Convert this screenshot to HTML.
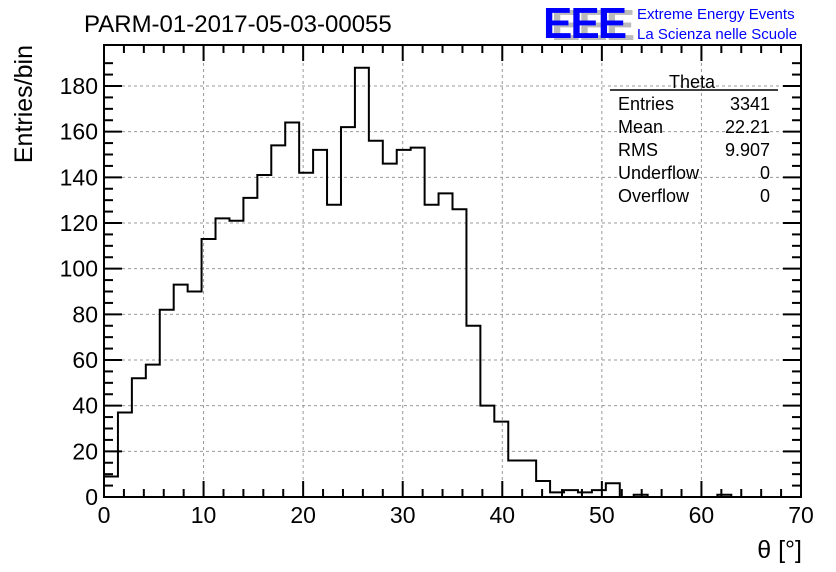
<!DOCTYPE html>
<html><head><meta charset="utf-8"><style>
body{margin:0;background:#fff;}
svg{display:block;font-family:"Liberation Sans",sans-serif;}
</style></head><body>
<svg id="chart" width="836" height="572" viewBox="0 0 836 572">
<rect width="836" height="572" fill="#fff"/>
<text x="84" y="32" font-size="24">PARM-01-2017-05-03-00055</text>
<g>
<text x="551" y="40" font-size="44" fill="#bbb" font-weight="bold" letter-spacing="-2">EEE</text>
<text x="543" y="38" font-size="44" fill="#0000ff" font-weight="bold" letter-spacing="-2">EEE</text>
<text x="637" y="19" font-size="15" fill="#0000ff">Extreme Energy Events</text>
<text x="637" y="39" font-size="15" fill="#0000ff">La Scienza nelle Scuole</text>
</g>
<g id="grid"></g>
<g id="axes"></g>
<path id="hist" fill="none" stroke="#000" stroke-width="2"/>
<g font-size="18">
<text x="692" y="88" text-anchor="middle">Theta</text>
<line x1="610" y1="90" x2="778" y2="90" stroke="#000" stroke-width="1.5"/>
<text x="618" y="110">Entries</text><text x="770" y="110" text-anchor="end">3341</text>
<text x="618" y="133">Mean</text><text x="770" y="133" text-anchor="end">22.21</text>
<text x="618" y="156">RMS</text><text x="770" y="156" text-anchor="end">9.907</text>
<text x="618" y="179">Underflow</text><text x="770" y="179" text-anchor="end">0</text>
<text x="618" y="202">Overflow</text><text x="770" y="202" text-anchor="end">0</text>
</g>
<text x="802" y="558" font-size="25" text-anchor="end">θ [°]</text>
<text transform="translate(32,45) rotate(-90)" font-size="25" text-anchor="end">Entries/bin</text>
</svg>
<script>
const binWidth = 1.4;
const counts = [9,37,52,58,82,93,90,113,122,121,131,141,154,164,142,152,128,162,188,156,146,152,153,128,133,126,75,40,33,16,16,7,2,3,2,3,6,0,1,0,0,0,0,0,1,0,0,0,0,0];
const xTicks = [0,10,20,30,40,50,60,70];
const yTicks = [0,20,40,60,80,100,120,140,160,180];
const L=104,R=801,T=45,B=497;
const sx=v=>L+(v/70)*(R-L);
const sy=v=>B-(v/180)*(B-86);
const NS="http://www.w3.org/2000/svg";
function mk(t,a,p){const e=document.createElementNS(NS,t);for(const k in a)e.setAttribute(k,a[k]);p.appendChild(e);return e;}
const grid=document.getElementById('grid'),axes=document.getElementById('axes');
xTicks.forEach(v=>{if(v>0&&v<70){const g=mk('line',{x1:sx(v),x2:sx(v),y1:T,y2:B,stroke:'#999','stroke-dasharray':'3,3','stroke-width':1},grid);

}});
yTicks.forEach(v=>{if(v>0){const g=mk('line',{x1:L,x2:R,y1:sy(v),y2:sy(v),stroke:'#999','stroke-dasharray':'3,3','stroke-width':1},grid);

}});
const fr=mk('rect',{x:L,y:T,width:R-L,height:B-T,fill:'none',stroke:'#000','stroke-width':2},axes);


for(let v=0;v<=70;v+=2){const len=v%10===0?16:8;
mk('line',{x1:sx(v),x2:sx(v),y1:B,y2:B-len,stroke:'#000','stroke-width':2},axes);
mk('line',{x1:sx(v),x2:sx(v),y1:T,y2:T+len,stroke:'#000','stroke-width':2},axes);}
for(let v=0;v<=190;v+=5){if(sy(v)<T)break;const len=v%20===0?18:9;
mk('line',{x1:L,x2:L+len,y1:sy(v),y2:sy(v),stroke:'#000','stroke-width':2},axes);
mk('line',{x1:R,x2:R-len,y1:sy(v),y2:sy(v),stroke:'#000','stroke-width':2},axes);}
xTicks.forEach(v=>{const t=mk('text',{x:sx(v),y:523,'font-size':23,'text-anchor':'middle'},axes);t.textContent=v;

});
yTicks.forEach(v=>{const t=mk('text',{x:L-6,y:sy(v)+8,'font-size':23,'text-anchor':'end'},axes);t.textContent=v;

});
let d='M'+sx(0)+','+sy(0);
counts.forEach((c,i)=>{d+=' L'+sx(i*binWidth)+','+sy(c)+' L'+sx((i+1)*binWidth)+','+sy(c);});
d+=' L'+sx(70)+','+sy(0);
document.getElementById('hist').setAttribute('d',d);
</script>
</body></html>
